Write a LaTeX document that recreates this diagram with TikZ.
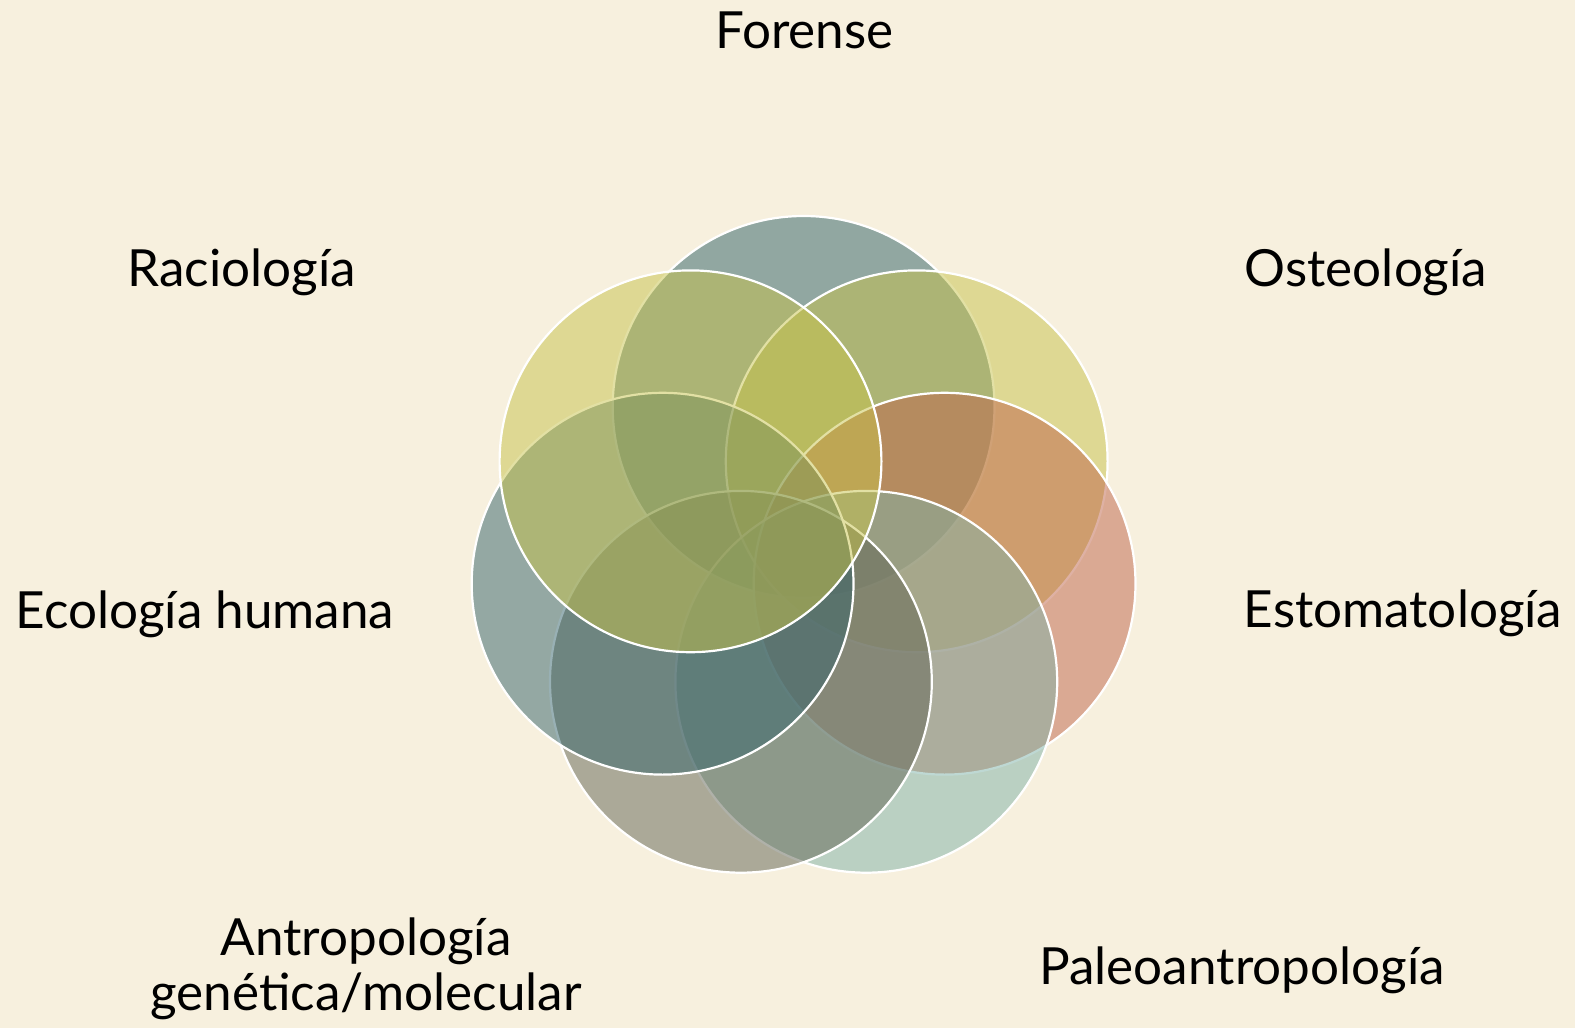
\documentclass[tikz,border=0pt]{standalone}
\usepackage{fontspec}
\setmainfont{Lato}
\definecolor{paper}{RGB}{247,240,222}
\definecolor{forense}{RGB}{45,96,102}
\definecolor{osteo}{RGB}{199,194,74}
\definecolor{estoma}{RGB}{191,100,74}
\definecolor{paleo}{RGB}{127,178,168}
\definecolor{genetica}{RGB}{97,100,84}
\definecolor{ecologia}{RGB}{51,98,106}
\definecolor{racio}{RGB}{199,194,74}
\tikzset{
  venn/.style={circle, minimum size=190.9pt, inner sep=0pt, draw=white, line width=1.1pt, fill opacity=0.5},
  field/.style={font=\fontsize{25.6}{27.5}\selectfont, text=black, anchor=base, align=center}
}
\begin{document}
\begin{tikzpicture}[x=0.5pt, y=-0.5pt]
\fill[paper] (0,0) rectangle (1575,1028);
\useasboundingbox (0,0) rectangle (1575,1028);

% circles, the first one lies at the bottom
\node (forense c) [venn, fill=forense] at (803.6,406.9) {};
\node (osteo c) [venn, fill=osteo] at (916.7,461.3) {};
\node (estoma c) [venn, fill=estoma] at (944.6,583.7) {};
\node (paleo c) [venn, fill=paleo] at (866.3,681.8) {};
\node (genetica c) [venn, fill=genetica] at (740.9,681.8) {};
\node (ecologia c) [venn, fill=ecologia] at (662.6,583.7) {};
\node (racio c) [venn, fill=racio] at (690.5,461.3) {};

% labels
\node (forense) [field] at (804.6,48) {Forense};
\node (osteo) [field] at (1366,286) {Osteología};
\node (estoma) [field] at (1403,627) {Estomatología};
\node (paleo) [field] at (1242,984) {Paleoantropología};
\node (genetica) [field] at (366,1010) {Antropología\\genética/molecular};
\node (ecologia) [field] at (205,628) {Ecología humana};
\node (racio) [field] at (241.6,286) {Raciología};

\end{tikzpicture}
\end{document}
